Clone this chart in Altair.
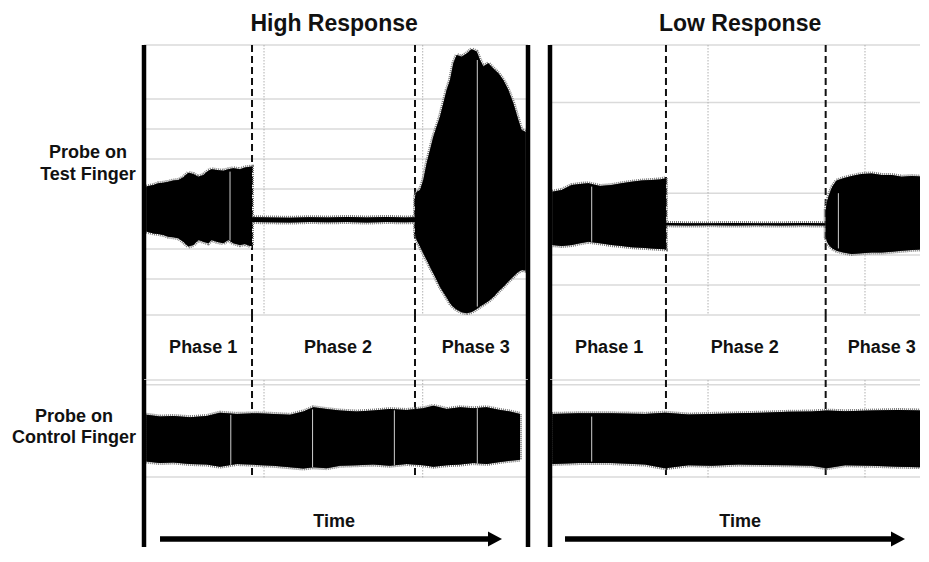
import altair as alt
import pandas as pd

FONT = "Liberation Sans"

# ---------------- text ----------------
TITLES = {"high": "High Response", "low": "Low Response"}
ROW_LABEL_TEST = "Probe on\nTest Finger"
ROW_LABEL_CONTROL = "Probe on\nControl Finger"
PHASE_NAMES = ["Phase 1", "Phase 2", "Phase 3"]
PHASE_LABEL_T = {"high": [15.4, 50.5, 86.4], "low": [15.4, 50.7, 86.4]}
TIME_LABEL = "Time"

# ---------------- time markers (time units, 0-100 per panel) ----------------
PHASE_BOUNDS = {"high": [28.13, 70.57], "low": [30.2, 71.79]}
DOTTED_T = {"high": [31.25, 72.58], "low": [41.15, 82.03]}
FRAME_T = {"high": [0, 100], "low": [0]}
ARROW = {"high": [4.17, 90.1, 91.4], "low": [3.91, 89.3, 90.63]}  # start, shaft end, head

# ---------------- test-finger signal envelopes (amplitude units) ----------------
HT1_T = [0.6, 2.43, 3.73, 5.03, 6.34, 7.64, 8.94, 10.24, 11.55, 12.85, 14.15, 15.45, 16.75,
         17.62, 18.92, 20.66, 21.96, 23.26, 25.0, 26.3, 27.6, 28.13]
HT1_HI = [1.08, 1.13, 1.19, 1.21, 1.24, 1.28, 1.30, 1.39, 1.54, 1.50, 1.41, 1.47, 1.61,
          1.66, 1.63, 1.61, 1.66, 1.69, 1.66, 1.72, 1.74, 1.74]
HT1_LO = [-0.42, -0.48, -0.50, -0.53, -0.59, -0.61, -0.64, -0.76, -0.92, -0.87, -0.70, -0.76, -0.81,
          -0.70, -0.76, -0.81, -0.70, -0.81, -0.87, -0.83, -0.90, -0.90]

HT2_T = [28.13, 33, 38, 43, 48, 53, 58, 63, 68, 70.57]
HT2_HI = [0.06, 0.05, 0.04, 0.06, 0.05, 0.07, 0.05, 0.07, 0.05, 0.06]
HT2_LO = [-0.10, -0.11, -0.12, -0.10, -0.11, -0.10, -0.12, -0.10, -0.11, -0.10]

HT3_T = [70.57, 71.0, 71.88, 72.74, 73.61, 74.48, 75.35, 76.22, 77.08, 77.95, 78.82, 79.69, 80.56,
         81.42, 82.73, 84.03, 85.33, 86.63, 87.5, 88.37, 89.67, 90.97, 92.27, 93.58, 94.88, 96.18,
         97.48, 98.35, 99.4]
HT3_HI = [0.74, 0.91, 0.97, 1.30, 1.86, 2.30, 2.74, 3.08, 3.41, 3.86, 4.30, 4.63, 5.19,
          5.47, 5.41, 5.52, 5.66, 5.58, 5.30, 5.08, 5.19, 5.02, 4.86, 4.63, 4.30, 3.86,
          3.30, 2.97, 2.90]
HT3_LO = [-0.48, -0.70, -0.92, -1.14, -1.37, -1.59, -1.81, -2.03, -2.26, -2.44, -2.62, -2.81, -2.93,
          -3.02, -3.11, -3.14, -3.10, -3.00, -2.92, -2.85, -2.74, -2.60, -2.42, -2.26, -2.08, -1.92,
          -1.76, -1.70, -1.72]

LT1_T = [0.6, 3.04, 5.64, 7.81, 9.98, 13.02, 16.06, 18.66, 21.27, 23.87, 26.48, 28.65, 30.2]
LT1_HI = [0.91, 0.97, 1.13, 1.17, 1.19, 1.10, 1.13, 1.19, 1.24, 1.28, 1.30, 1.32, 1.36]
LT1_LO = [-0.87, -0.90, -0.87, -0.81, -0.76, -0.81, -0.87, -0.90, -0.94, -0.96, -0.98, -1.00, -1.01]

LT2_T = [30.2, 36, 42, 48, 54, 60, 66, 71.79]
LT2_HI = [-0.13, -0.14, -0.14, -0.13, -0.14, -0.14, -0.13, -0.14]
LT2_LO = [-0.21, -0.22, -0.21, -0.22, -0.21, -0.22, -0.21, -0.22]

LT3_T = [71.79, 72.14, 72.66, 73.53, 74.65, 76.39, 78.56, 81.16, 83.77, 86.37, 88.98, 91.58, 94.18,
         96.79, 98.7]
LT3_HI = [0.30, 0.58, 0.80, 1.08, 1.28, 1.36, 1.43, 1.50, 1.52, 1.47, 1.47, 1.41, 1.43, 1.41, 1.41]
LT3_LO = [-0.59, -0.76, -0.87, -0.98, -1.06, -1.12, -1.17, -1.14, -1.12, -1.12, -1.09, -1.06, -1.03,
          -1.01, -0.98]

# ---------------- control-finger signal envelopes ----------------
HC_T = [0.6, 4.17, 7.64, 11.98, 16.32, 19.79, 24.13, 29.34, 33.68, 38.02, 41.49, 44.1, 47.57, 51.04,
        55.38, 59.72, 64.06, 68.4, 72.74, 75.35, 78.82, 82.29, 85.76, 89.24, 92.71, 95.31, 97.92]
HC_HI = [0.77, 0.71, 0.73, 0.69, 0.73, 0.84, 0.80, 0.82, 0.80, 0.77, 0.88, 1.02, 0.96, 0.91,
         0.88, 0.91, 0.96, 0.93, 0.99, 1.07, 0.96, 1.02, 0.99, 1.02, 0.93, 0.88, 0.80]
HC_LO = [-0.79, -0.84, -0.82, -0.87, -0.89, -0.96, -0.87, -0.90, -0.93, -0.98, -1.02, -0.98, -1.01, -0.93,
         -0.91, -0.89, -0.93, -0.87, -0.91, -0.96, -0.91, -0.89, -0.84, -0.87, -0.80, -0.76, -0.73]

LC_T = [0.6, 7.38, 16.06, 24.74, 29.95, 36.02, 42.1, 49.05, 55.12, 62.07, 68.14, 72.05, 76.82,
        83.77, 90.71, 98.52]
LC_HI = [0.80, 0.82, 0.82, 0.80, 0.84, 0.78, 0.80, 0.82, 0.84, 0.87, 0.88, 0.91, 0.89, 0.91, 0.93, 0.91]
LC_LO = [-0.87, -0.84, -0.84, -0.89, -1.01, -0.91, -0.93, -0.89, -0.90, -0.91, -0.93, -1.01, -0.91,
         -0.93, -0.96, -0.98]

# ---------------- thin light gaps inside the traces ----------------
HT_GAP = ([22.4, 86.8], [1.58, 5.3], [-0.72, -2.92])
LT_GAP = ([10.86, 75.1], [1.08, 0.86], [-0.76, -0.98])
HC_GAP = ([22.6, 43.9, 65.2, 86.8], [0.77, 0.95, 0.92, 0.99], [-0.9, -0.98, -0.91, -0.86])
LC_GAP = ([10.86, 96.6], [0.71, 0.91], [-0.79, -0.97])

# ---------------- grid lines (amplitude units) ----------------
TEST_GRID = {"high": [-3.2, -2, -1, 0, 1, 2, 3, 4, 5.8], "low": [-3.2, -2.2, -1.2, 0.86, 3.88, 5.8]}
CTRL_GRID = [1.93, 1.77, -1.3]

# ---------------- layout ----------------
W = {"label": 114, "high": 384, "low": 370}
XMAX = {"high": 100.0, "low": 370 / 3.84}
H = {"header": 37, "test": 270, "phase": 65, "control": 99, "time": 68}
YS_TEST = alt.Scale(domain=[-3.2, 5.8], nice=False, zero=False)
YS_CTRL = alt.Scale(domain=[-1.37, 1.93], nice=False, zero=False)


def X(field, p):
    return alt.X(f"{field}:Q", scale=alt.Scale(domain=[0, XMAX[p]], nice=False, zero=False), axis=None)


def seg_df(parts):
    rows = []
    for name, ts, his, los in parts:
        for t, h, l in zip(ts, his, los):
            rows.append({"t": t, "hi": h, "lo": l, "seg": name})
    return pd.DataFrame(rows)


def vlines(vals, p, **style):
    return alt.Chart(pd.DataFrame({"t": vals})).mark_rule(**style).encode(x=X("t", p))


def hlines(vals, ys, **style):
    return alt.Chart(pd.DataFrame({"g": vals})).mark_rule(**style).encode(
        y=alt.Y("g:Q", scale=ys, axis=None))


def envelope(df, p, ys):
    enc = dict(x=X("t", p), y=alt.Y("hi:Q", scale=ys, axis=None), y2="lo:Q", detail="seg:N")
    fuzz = alt.Chart(df).mark_area(fill="black", stroke="#7a7a7a", strokeWidth=4,
                                   strokeDash=[1, 1], clip=True).encode(**enc)
    core = alt.Chart(df).mark_area(fill="black", clip=True).encode(**enc)
    return alt.layer(fuzz, core)


def gaps(g, p, ys):
    df = pd.DataFrame({"t": g[0], "hi": g[1], "lo": g[2]})
    return alt.Chart(df).mark_rule(color="#cfcfcf", strokeWidth=1, clip=True).encode(
        x=X("t", p), y=alt.Y("hi:Q", scale=ys, axis=None), y2="lo:Q")


def grid_style():
    return dict(color="#dadada", strokeWidth=1.5)


def dashed(p):
    return vlines(PHASE_BOUNDS[p], p, color="#111111", strokeWidth=2, strokeDash=[7, 4])


def dotted(p):
    return vlines(DOTTED_T[p], p, color="#b0b0b0", strokeWidth=1, strokeDash=[1.5, 1.5])


def frame(p):
    return vlines(FRAME_T[p], p, color="black", strokeWidth=4.5)


def text_style(size):
    return dict(font=FONT, fontSize=size, fontWeight="bold", color="#111111")


def empty(w, h):
    return alt.Chart(pd.DataFrame({"s": [""]})).mark_text().encode(
        text="s:N", x=alt.value(w / 2), y=alt.value(h / 2)).properties(width=w, height=h)


def label_cell(text, xpx, ypx, lh, h):
    return alt.Chart(pd.DataFrame({"s": [text]})).mark_text(
        lineBreak="\n", lineHeight=lh, align="center", baseline="middle", **text_style(18)
    ).encode(text="s:N", x=alt.value(xpx), y=alt.value(ypx)).properties(width=W["label"], height=h)


def header_cell(p):
    return alt.Chart(pd.DataFrame({"t": [49.5], "s": [TITLES[p]]})).mark_text(
        align="center", baseline="alphabetic", **text_style(23)
    ).encode(x=X("t", p), y=alt.value(22.7), text="s:N").properties(width=W[p], height=H["header"])


test_sig = {
    "high": seg_df([("p1", HT1_T, HT1_HI, HT1_LO), ("p2", HT2_T, HT2_HI, HT2_LO), ("p3", HT3_T, HT3_HI, HT3_LO)]),
    "low": seg_df([("p1", LT1_T, LT1_HI, LT1_LO), ("p2", LT2_T, LT2_HI, LT2_LO), ("p3", LT3_T, LT3_HI, LT3_LO)]),
}
ctrl_sig = {
    "high": seg_df([("c", HC_T, HC_HI, HC_LO)]),
    "low": seg_df([("c", LC_T, LC_HI, LC_LO)]),
}
test_gap = {"high": HT_GAP, "low": LT_GAP}
ctrl_gap = {"high": HC_GAP, "low": LC_GAP}


def test_cell(p):
    return alt.layer(
        hlines(TEST_GRID[p], YS_TEST, **grid_style()),
        dotted(p), dashed(p),
        envelope(test_sig[p], p, YS_TEST),
        gaps(test_gap[p], p, YS_TEST),
        frame(p),
    ).properties(width=W[p], height=H["test"])


def phase_cell(p):
    df = pd.DataFrame({"t": PHASE_LABEL_T[p], "s": PHASE_NAMES})
    txt = alt.Chart(df).mark_text(align="center", baseline="middle", **text_style(18)).encode(
        x=X("t", p), y=alt.value(33), text="s:N")
    return alt.layer(dashed(p), frame(p), txt).properties(width=W[p], height=H["phase"])


def control_cell(p):
    return alt.layer(
        hlines(CTRL_GRID, YS_CTRL, **grid_style()),
        dotted(p), dashed(p),
        envelope(ctrl_sig[p], p, YS_CTRL),
        gaps(ctrl_gap[p], p, YS_CTRL),
        frame(p),
    ).properties(width=W[p], height=H["control"])


def time_cell(p):
    a = ARROW[p]
    shaft = alt.Chart(pd.DataFrame({"t0": [a[0]], "t1": [a[1]]})).mark_rule(
        color="black", strokeWidth=5.5).encode(x=X("t0", p), x2="t1:Q", y=alt.value(60))
    head = alt.Chart(pd.DataFrame({"t": [a[2]]})).mark_point(
        shape="M-1,-1.07L1,0L-1,1.07Z", filled=True, size=196, color="black", opacity=1, strokeWidth=0
    ).encode(x=X("t", p), y=alt.value(60))
    txt = alt.Chart(pd.DataFrame({"t": [49.5], "s": [TIME_LABEL]})).mark_text(
        align="center", baseline="middle", **text_style(18)).encode(
        x=X("t", p), y=alt.value(42.7), text="s:N")
    return alt.layer(frame(p), shaft, head, txt).properties(width=W[p], height=H["time"])


cells = [
    empty(W["label"], H["header"]), header_cell("high"), header_cell("low"),
    label_cell(ROW_LABEL_TEST, 80, 107.7, 22, H["test"]), test_cell("high"), test_cell("low"),
    empty(W["label"], H["phase"]), phase_cell("high"), phase_cell("low"),
    label_cell(ROW_LABEL_CONTROL, 66, 37, 21, H["control"]), control_cell("high"), control_cell("low"),
    empty(W["label"], H["time"]), time_cell("high"), time_cell("low"),
]

chart = alt.concat(
    *cells, columns=3, spacing={"row": 0, "column": 22}, bounds="flush"
).resolve_scale(x="independent", y="independent").properties(
    padding=0, background="white"
).configure_view(stroke=None)

chart.save("out.html", embed_options={"renderer": "svg", "actions": False})
